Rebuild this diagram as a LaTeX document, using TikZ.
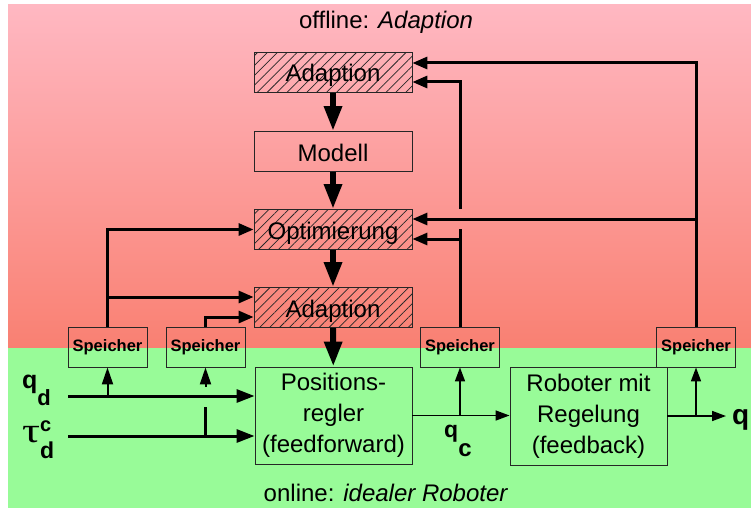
\documentclass[tikz,border=0pt]{standalone}
\usepackage{graphicx}
\usepackage{fontspec}
\setmainfont{Liberation Sans}
\newfontfamily\grfont{Liberation Serif}
\usetikzlibrary{arrows.meta,patterns.meta}
\definecolor{pinktop}{RGB}{255,184,194}
\definecolor{pinkbot}{RGB}{249,128,114}
\definecolor{greenbg}{RGB}{152,251,152}
\definecolor{hatchc}{RGB}{40,40,40}
\begin{document}
\begin{tikzpicture}[x=1pt,y=-1pt,
  box/.style={draw=black!85, line width=0.9pt, minimum width=158pt, minimum height=40pt, inner sep=0pt, align=center, font=\fontsize{24}{31}\selectfont},
  onel/.style={text height=22pt, text depth=3pt},
  hatched/.style={box, onel, pattern={Lines[angle=45,distance=7pt,line width=0.75pt]}, pattern color=hatchc},
  spbox/.style={draw=black!85, line width=0.9pt, minimum width=79pt, minimum height=40pt, inner sep=0pt, font=\fontsize{16.5}{18}\selectfont\bfseries},
  big/.style={line width=6pt, -{Triangle[length=25pt,width=17pt]}},
  thk/.style={line width=3pt},
  tarr/.style={thk, -{Triangle[length=15pt,width=12pt]}},
  inarr/.style={thk, -{Triangle[length=18pt,width=13pt]}},
  midl/.style={line width=2pt, -{Triangle[length=17pt,width=11pt]}},
  thin/.style={line width=1.6pt},
  tharr/.style={thin, -{Triangle[length=14pt,width=10pt]}},
  lbl/.style={inner sep=0pt, anchor=base west},
]
\useasboundingbox (0,0) rectangle (751,508);
\fill[white] (0,0) rectangle (751,508);
\shade[top color=pinktop,bottom color=pinkbot] (8,5) rectangle (751,348);
\fill[greenbg] (8,348) rectangle (751,508);

% titles
\node (off) at (386,22) {\fontsize{24}{28}\selectfont offline: \textit{Adaption}};
\node (on) at (386,493) {\fontsize{24}{28}\selectfont online: \textit{idealer Roboter}};

% main boxes
\node[hatched] (adapt1) at (333,72.5) {Adaption};
\node[box, onel] (modell) at (333,151.5) {Modell};
\node[hatched] (optim) at (333,229.5) {Optimierung};
\node[hatched] (adapt2) at (333,307.5) {Adaption};
\node[box, minimum width=157pt, minimum height=97pt] (posreg) at (333.5,415.5) {Positions-\\regler\\(feedforward)};
\node[box, minimum width=157pt, minimum height=98pt] (robot) at (588.5,416) {Roboter mit\\Regelung\\(feedback)};

% Speicher
\node[spbox] (sp1) at (107.5,347) {Speicher};
\node[spbox] (sp2) at (205.5,347) {Speicher};
\node[spbox] (sp3) at (460,347) {Speicher};
\node[spbox] (sp4) at (696,347) {Speicher};

% labels
\node[lbl] (qd) at (22,388.5) {\fontsize{25}{25}\selectfont\bfseries q\raisebox{-16.5pt}{\fontsize{22}{22}\selectfont d}};
\node[lbl] (tau) at (22,442) {{\fontsize{32}{32}\selectfont\grfont\scalebox{1.4}[1.1]{τ}}\bfseries\rlap{\raisebox{11pt}{\fontsize{20}{20}\selectfont c}}\raisebox{-16pt}{\fontsize{23}{23}\selectfont d}};
\node[lbl] (qc) at (444,437) {\fontsize{23}{23}\selectfont\bfseries q\raisebox{-19pt}{\fontsize{24}{24}\selectfont c}};
\node[lbl] (qo) at (732,424.5) {\fontsize{28}{28}\selectfont\bfseries q};

% big vertical arrows
\draw[big] (adapt1) -- (modell);
\draw[big] (modell) -- (optim);
\draw[big] (optim) -- (adapt2);
\draw[big] (adapt2) -- (posreg);

% anchor points
\coordinate (a1r1) at ([yshift=9.5pt]adapt1.east);
\coordinate (a1r2) at ([yshift=-9.5pt]adapt1.east);
\coordinate (o1) at ([yshift=10.5pt]optim.east);
\coordinate (o2) at ([yshift=-9.5pt]optim.east);
\coordinate (a2l1) at ([yshift=10.5pt]adapt2.west);
\coordinate (a2l2) at ([yshift=-9.5pt]adapt2.west);
\coordinate (pin1) at ([yshift=19.5pt]posreg.west);
\coordinate (pin2) at ([yshift=-20.5pt]posreg.west);
\coordinate (qdst) at (68,396);
\coordinate (taust) at (68,436);
\coordinate (h3a) at (460,229);
\coordinate (h3b) at (460,209);
\coordinate (h2a) at (205.5,407);
\coordinate (h2b) at (205.5,387);
\coordinate (qout) at (726,416);

% upper connectors
\draw[tarr] (sp1.north) |- (optim.west);
\draw[tarr] (sp1.north |- a2l1) -- (a2l1);
\draw[tarr] (sp2.north) |- (a2l2);
\draw[thk] (sp3.north) -- (h3a);
\draw[tarr] (h3b) |- (a1r2);
\draw[tarr] (sp3.north |- o2) -- (o2);
\draw[tarr] (sp4.north) |- (a1r1);
\draw[tarr] (sp4.north |- o1) -- (o1);

% lower connectors
\draw[inarr] (qdst) -- (pin1);
\draw[inarr] (taust) -- (pin2);
\draw[midl] (qdst -| sp1.south) -- (sp1.south);
\draw[thk] (taust -| sp2.south) -- (h2a);
\draw[midl] (h2b) -- (sp2.south);
\draw[tharr] (posreg.east) -- (posreg.east -| robot.west);
\draw[tharr] (posreg.east -| sp3.south) -- (sp3.south);
\draw[tharr] (robot.east) -- (qout);
\draw[tharr] (robot.east -| sp4.south) -- (sp4.south);
\end{tikzpicture}
\end{document}
